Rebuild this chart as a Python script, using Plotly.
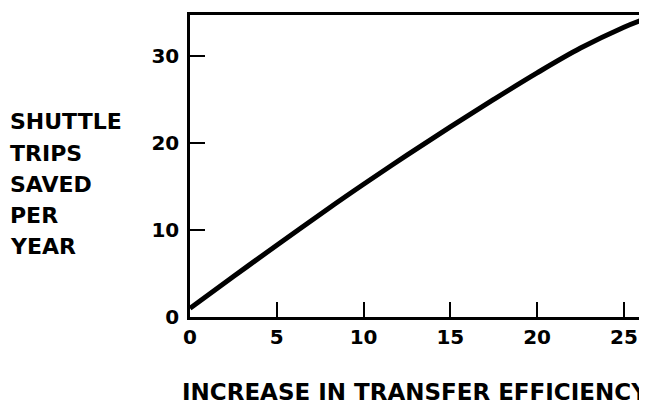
import plotly.graph_objects as go

efficiency_increase = [0, 2.5, 5, 8, 10, 12.5, 15, 17.5, 20, 22.5, 25, 26]
trips_saved = [1.0, 4.65, 8.25, 12.5, 15.25, 18.6, 21.85, 25.0, 28.05, 30.9, 33.3, 34.1]

x_ticks = [0, 5, 10, 15, 20, 25]
y_ticks = [0, 10, 20, 30]

y_title_lines = ["SHUTTLE", "TRIPS", "SAVED", "PER", "YEAR"]
x_title = "INCREASE IN TRANSFER EFFICIENCY"

font_family = "DejaVu Sans, Liberation Sans, Arial, sans-serif"

# page body has an 8px default margin; compensate so plot area sits at x 190-643, y 12-317
L, R, T, B = 182, 12, 4, 96
PW, PH = 647 - L - R, 405 - T - B

fig = go.Figure()
fig.add_trace(go.Scatter(
    x=efficiency_increase, y=trips_saved, mode="lines",
    line=dict(color="black", width=5, shape="spline", smoothing=1.0),
    showlegend=False,
))

fig.update_layout(
    width=647, height=405,
    margin=dict(l=L, r=R, t=T, b=B),
    paper_bgcolor="white", plot_bgcolor="white",
    font=dict(family=font_family, color="black"),
)
fig.update_xaxes(
    range=[0, 26.1], tickvals=x_ticks, ticktext=[str(v) for v in x_ticks],
    showgrid=False, zeroline=False,
    showline=True, linecolor="black", linewidth=2.5, mirror=True,
    ticks="inside", ticklen=15, tickwidth=2, tickcolor="black",
    tickfont=dict(size=20, family=font_family, weight="bold"),
)
fig.update_yaxes(
    range=[0, 34.7], tickvals=y_ticks, ticktext=[str(v) for v in y_ticks],
    showgrid=False, zeroline=False,
    showline=True, linecolor="black", linewidth=2.5, mirror=True,
    ticks="inside", ticklen=15, tickwidth=2, tickcolor="black",
    tickfont=dict(size=20, family=font_family, weight="bold"),
    ticklabelstandoff=4,
)
# y-title lines: centres at screen y 120,152,184,215,246 ; left at x=8
for i, word in enumerate(y_title_lines):
    cy = 120 + 31.5 * i
    fig.add_annotation(
        text=word, xref="paper", yref="paper",
        x=(8 - 190) / PW, y=(317 - cy) / PH,
        xanchor="left", yanchor="middle", align="left", showarrow=False,
        font=dict(size=22, family=font_family, weight="bold"),
    )
fig.add_annotation(
    text=x_title, xref="paper", yref="paper", x=(180 - 190) / PW, y=(317 - 393) / PH,
    xanchor="left", yanchor="middle", align="left", showarrow=False,
    font=dict(size=23, family=font_family, weight="bold"),
)
fig.write_html("out.html")
